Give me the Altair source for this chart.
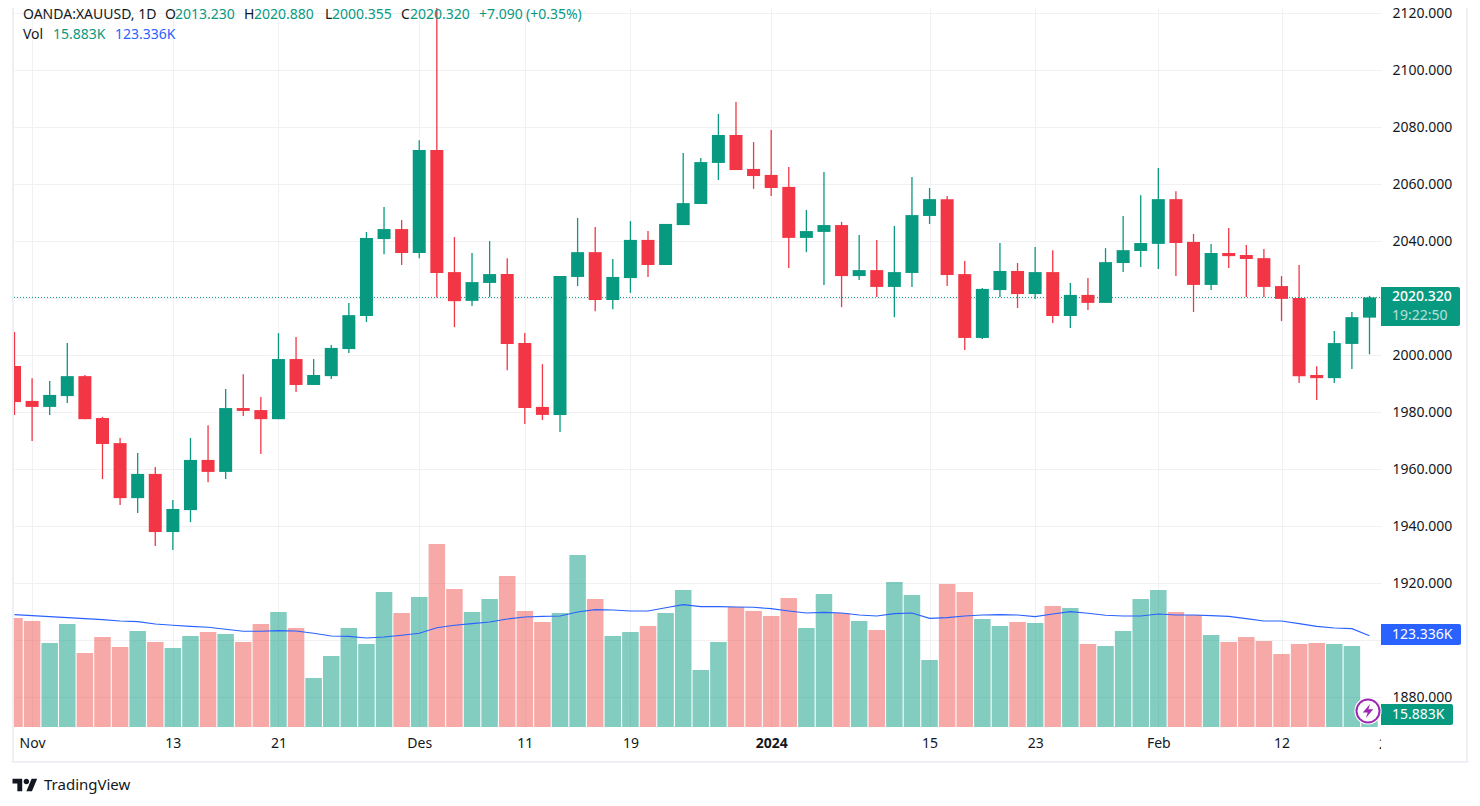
import altair as alt
import pandas as pd

# Daily OHLC, trading-day order from just before 1 Nov 2023
opens = [1996.25,1984.0,1981.9,1985.7,1992.7,1978.0,1969.2,1949.9,1958.4,1938.0,
         1945.7,1963.3,1959.1,1981.5,1980.8,1977.6,1998.7,1989.6,1992.7,2002.2,
         2013.8,2040.8,2044.3,2035.9,2072.0,2029.2,2019.1,2025.4,2028.5,2004.3,
         1981.9,1979.1,2027.5,2036.2,2019.4,2027.1,2040.5,2031.7,2045.7,2053.1,
         2067.5,2077.3,2065.4,2063.3,2059.1,2041.2,2043.3,2045.7,2027.8,2029.9,
         2024.0,2028.9,2048.9,2054.8,2028.5,2006.1,2022.9,2029.6,2021.5,2029.2,
         2013.8,2021.2,2018.4,2032.4,2036.6,2039.1,2054.8,2039.8,2024.7,2035.9,
         2035.2,2034.1,2024.3,2020.1,1993.1,1992.0,2004.0,2013.23]
highs = [2008.2,1992.0,1991.0,2004.3,1993.1,1978.4,1971.0,1965.7,1960.8,1949.2,
         1971.0,1975.5,1988.2,1993.4,1985.4,2007.8,2006.4,1998.7,2003.6,2018.4,
         2043.3,2052.0,2047.5,2075.5,2135.0,2041.5,2035.9,2040.1,2034.1,2007.8,
         1996.9,2027.8,2048.2,2045.0,2033.8,2047.1,2043.6,2046.1,2071.0,2069.2,
         2084.7,2088.9,2074.8,2079.1,2066.1,2051.0,2064.3,2046.8,2042.2,2040.5,
         2045.4,2062.6,2058.7,2055.9,2033.1,2023.6,2039.4,2032.4,2038.0,2036.9,
         2025.4,2027.1,2037.6,2048.9,2056.2,2065.7,2057.6,2042.6,2039.1,2044.7,
         2038.7,2037.3,2027.8,2031.7,1996.2,2008.5,2015.2,2020.88]
lows = [1979.1,1969.9,1979.1,1983.3,1977.6,1956.6,1947.5,1944.7,1933.1,1931.7,
        1941.5,1955.5,1956.6,1978.7,1965.4,1977.6,1987.1,1989.6,1991.7,2000.8,
        2011.7,2035.5,2031.7,2034.1,2020.3,2009.9,2017.3,2020.5,1994.8,1975.9,
        1977.3,1973.1,2024.3,2015.5,2016.2,2021.9,2027.5,2031.7,2045.7,2053.1,
        2061.5,2065.0,2058.4,2055.9,2030.6,2036.2,2024.7,2016.9,2026.4,2020.5,
        2013.4,2024.0,2046.1,2024.3,2001.9,2005.7,2020.5,2016.6,2019.8,2011.3,
        2009.6,2015.9,2018.4,2029.2,2031.0,2030.3,2027.8,2015.2,2022.9,2030.6,
        2020.5,2020.5,2012.0,1990.3,1984.3,1990.3,1995.2,2000.355]
closes = [1983.6,1981.9,1986.1,1992.7,1977.6,1968.9,1949.9,1958.4,1938.0,1946.1,
          1963.3,1959.1,1981.5,1980.5,1977.6,1998.7,1989.6,1993.1,2002.6,2014.1,
          2041.2,2044.3,2035.9,2072.0,2028.9,2019.0,2025.7,2028.5,2004.0,1981.5,
          1979.1,2027.8,2036.2,2019.4,2027.5,2040.5,2031.7,2046.1,2053.4,2067.8,
          2077.3,2065.0,2062.9,2058.7,2041.2,2043.6,2045.7,2027.8,2029.9,2024.0,
          2029.2,2049.2,2054.8,2028.2,2006.1,2023.3,2029.6,2021.5,2029.2,2013.8,
          2021.2,2018.4,2032.7,2036.9,2039.4,2054.8,2039.4,2024.7,2035.9,2034.8,
          2033.8,2024.0,2019.8,1992.7,1992.0,2004.3,2013.4,2020.32]
# Volume and its moving average, thousands
volumes = [147.2,143.1,113.4,139.1,99.9,121.5,108.0,129.6,114.8,106.7,
           122.9,128.3,125.6,114.8,139.1,155.3,133.7,66.2,95.9,133.7,
           112.1,182.3,153.9,175.5,247.1,186.3,155.3,172.8,203.9,156.6,
           141.8,153.9,232.2,172.8,122.9,128.3,136.4,153.9,185.0,77.0,
           114.8,162.0,156.6,149.9,174.2,133.7,179.6,153.9,143.1,131.0,
           195.8,178.2,90.5,193.1,182.3,145.8,136.4,141.8,140.4,163.4,
           160.7,112.1,109.4,129.6,172.8,185.0,155.3,151.2,124.2,114.8,
           121.5,116.1,98.6,112.1,113.4,112.1,109.4,15.883]
vol_ma = [151.7,150.3,149.0,147.6,146.3,144.9,143.1,142.2,139.1,137.3,
          135.9,134.6,131.9,129.2,129.2,130.1,129.6,126.5,122.9,122.4,
          120.2,121.5,123.8,126.5,134.1,137.3,139.5,141.8,145.8,148.5,
          149.4,149.9,155.3,158.4,158.0,156.6,156.6,161.1,165.2,162.5,
          162.5,162.0,161.6,159.8,156.6,153.9,154.8,153.9,151.2,149.9,
          153.0,153.9,146.7,147.6,149.9,151.2,151.7,151.2,149.0,152.6,
          155.7,153.5,150.8,149.9,149.9,152.6,151.2,151.2,150.3,149.4,
          146.3,143.1,143.1,139.5,135.9,133.7,132.8,123.336]
tick_positions = [1, 9, 15, 23, 29, 35, 43, 52, 58, 65, 72]
tick_labels = ["Nov", "13", "21", "Des", "11", "19", "2024", "15", "23", "Feb", "12"]
clipped_tick = 78
clipped_label = "20"
price_ticks = [1880, 1900, 1920, 1940, 1960, 1980, 2000, 2020, 2040, 2060, 2080, 2100, 2120]
last_price = 2020.32

GREEN, RED, BLUE = "#089981", "#f23645", "#2962ff"
VRED = "#ef5350"
TXT = "#131722"
GRID = "#f1f1f3"
FRAME = "#eeeef5"
FONT = "Noto Sans"
FS = 14

df = pd.DataFrame({"i": range(len(opens)), "o": opens, "h": highs, "l": lows, "c": closes,
                   "v": volumes, "ma": vol_ma})
df["top"] = df[["o", "c"]].max(axis=1)
df["bot"] = df[["o", "c"]].min(axis=1)
df["d"] = ["up" if c >= o else "down" for o, c in zip(opens, closes)]

W, H = 1367, 719
sx = alt.Scale(domain=[-0.028, 77.654], nice=False, zero=False, padding=0)
sp = alt.Scale(domain=[1869.6, 2121.86], nice=False, zero=False)
sv = alt.Scale(domain=[0, 970.65], nice=False, zero=True)
col = alt.Color("d:N", legend=None, scale=alt.Scale(domain=["up", "down"], range=[GREEN, RED]))
vcol = alt.Color("d:N", legend=None, scale=alt.Scale(domain=["up", "down"], range=[GREEN, VRED]))

mapping = ",".join(f"{p}:'{t}'" for p, t in zip(tick_positions, tick_labels))
xaxis = alt.Axis(values=tick_positions, labelExpr="{" + mapping + "}[datum.value]", title=None,
                 grid=True, gridColor=GRID, gridWidth=1, domain=False, ticks=False, labelPadding=9,
                 labelFont=FONT, labelFontSize=FS, labelColor=TXT, labelOverlap=False, labelFlush=False,
                 labelBound=False, labelAngle=0,
                 labelFontWeight={"condition": {"test": "datum.value === 43", "value": "bold"}, "value": "normal"})
yaxis = alt.Axis(values=price_ticks, format=".3f", orient="right", title=None, grid=True, gridColor=GRID,
                 gridWidth=1, domain=False, ticks=False, labelPadding=11, labelFont=FONT, labelFontSize=FS,
                 labelColor=TXT, labelOverlap=False, labelFlush=False, labelBound=False)
X = alt.X("i:Q", scale=sx, axis=xaxis)
base = alt.Chart(df)

wick = base.mark_rule(strokeWidth=1.3, clip=True).encode(
    x=X, y=alt.Y("h:Q", scale=sp, axis=yaxis), y2="l:Q", color=col)
body = base.mark_bar(size=13, clip=True, orient="vertical").encode(
    x=X, y=alt.Y("top:Q", scale=sp, axis=None), y2="bot:Q", color=col)
vbars = base.mark_bar(size=16.5, opacity=0.5, clip=True, orient="vertical").encode(
    x=X, y=alt.Y("v:Q", scale=sv, axis=None, stack=None), color=vcol)
maline = base.mark_line(color=BLUE, strokeWidth=1.1, clip=True).encode(
    x=X, y=alt.Y("ma:Q", scale=sv, axis=None))
lastline = alt.Chart(pd.DataFrame({"p": [last_price]})).mark_rule(
    color=GREEN, strokeWidth=1, strokeDash=[1, 2]).encode(
    y=alt.Y("p:Q", scale=sp, axis=None), x=alt.value(0), x2=alt.value(W))

one = pd.DataFrame({"a": [0]})


def label(s, x, y, color=TXT, size=FS, weight="normal", opacity=1.0, align="left"):
    return alt.Chart(pd.DataFrame({"t": [s]})).mark_text(
        align=align, baseline="middle", font=FONT, fontSize=size, fontWeight=weight,
        color=color, opacity=opacity).encode(x=alt.value(x - 14), y=alt.value(y - 8), text="t:N")


def box(x1, x2, y1, y2, color):
    return alt.Chart(one).mark_rect(color=color, cornerRadiusTopRight=2, cornerRadiusBottomRight=2).encode(
        x=alt.value(x1 - 14), x2=alt.value(x2 - 14), y=alt.value(y1 - 8), y2=alt.value(y2 - 8))


def line(x1, x2, y1, y2, color=FRAME, w=2):
    return alt.Chart(one).mark_rule(color=color, strokeWidth=w).encode(
        x=alt.value(x1 - 14), x2=alt.value(x2 - 14), y=alt.value(y1 - 8), y2=alt.value(y2 - 8))


clip_text = alt.Chart(pd.DataFrame({"i": [clipped_tick], "t": [clipped_label]})).mark_text(
    font=FONT, fontSize=FS, color=TXT, baseline="middle", align="center").encode(
    x=alt.X("i:Q", scale=sx, axis=xaxis), y=alt.value(745 - 8), text="t:N")
clip_cover = alt.Chart(one).mark_rect(color="#ffffff").encode(
    x=alt.value(W), x2=alt.value(W + 30), y=alt.value(730 - 8), y2=alt.value(756 - 8))

TV = ("M-0.222,0.5 H-0.611 V-0.111 H-1 V-0.5 H-0.222 Z "
      "M0.556,0.5 H0.111 L0.528,-0.5 H0.972 Z "
      "M-0.111,-0.278 A0.222,0.222 0 1,0 0.333,-0.278 A0.222,0.222 0 1,0 -0.111,-0.278 Z")
logo = alt.Chart(one).mark_point(shape=TV, filled=True, color=TXT, opacity=1, size=625).encode(
    x=alt.value(25 - 14), y=alt.value(785 - 8))
BOLT = "M0.3,-1 L-0.75,0.2 H-0.05 L-0.3,1 L0.75,-0.25 H0.05 Z"
ring_bg = alt.Chart(one).mark_point(shape="circle", filled=True, color="#ffffff", opacity=1, size=740).encode(
    x=alt.value(1368 - 14), y=alt.value(711 - 8))
ring = alt.Chart(one).mark_point(shape="circle", filled=False, color="#9c27b0", opacity=1, size=530, strokeWidth=2).encode(
    x=alt.value(1368 - 14), y=alt.value(711 - 8))
bolt = alt.Chart(one).mark_point(shape=BOLT, filled=True, color="#9c27b0", opacity=1, size=196).encode(
    x=alt.value(1368 - 14), y=alt.value(711 - 8))

layers = [
    wick, vbars, maline, lastline, body,
    line(13, 13, 0, 763), line(12, 1468, 762, 762), line(1467, 1467, 0, 763),
    clip_text, clip_cover,
    label("OANDA:XAUUSD, 1D", 23, 15), label("O", 165, 15), label("2013.230", 175, 15, GREEN),
    label("H", 244, 15), label("2020.880", 254, 15, GREEN), label("L", 325, 15),
    label("2000.355", 332, 15, GREEN), label("C", 401, 15), label("2020.320", 410, 15, GREEN),
    label("+7.090", 479, 15, GREEN), label("(+0.35%)", 526, 15, GREEN),
    label("Vol", 23, 35), label("15.883K", 53, 35, GREEN), label("123.336K", 115, 35, BLUE),
    box(1381, 1460, 287, 326, GREEN), label("2020.320", 1392, 297, "#ffffff", weight=500),
    label("19:22:50", 1392, 316, "#ffffff", opacity=0.7),
    box(1381, 1461, 624, 645, BLUE), label("123.336K", 1392, 635, "#ffffff"),
    box(1381, 1453, 704, 725, GREEN), label("15.883K", 1392, 715, "#ffffff"),
    ring_bg, ring, bolt,
    logo, label("TradingView", 44, 785, TXT, size=15),
]

chart = alt.layer(*layers).resolve_scale(y="independent", color="independent").properties(
    width=W, height=H,
    autosize=alt.AutoSizeParams(type="none", contains="content"),
    padding={"left": 6, "top": 0, "right": 90, "bottom": 68},
    background="#ffffff",
).configure_view(stroke=None)

chart.save("out.html", embed_options={"renderer": "svg", "actions": False})
